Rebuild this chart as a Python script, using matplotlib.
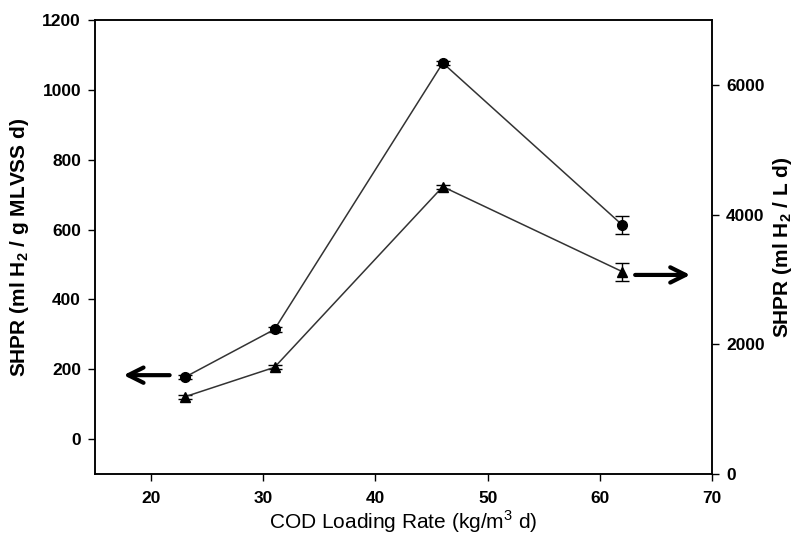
import matplotlib
matplotlib.use("Agg")
import matplotlib.pyplot as plt

plt.rcParams['font.family'] = ['Liberation Sans', 'DejaVu Sans']
plt.rcParams['mathtext.fontset'] = 'custom'
plt.rcParams['mathtext.rm'] = 'Liberation Sans'
plt.rcParams['mathtext.bf'] = 'Liberation Sans:bold'

cod = [23, 31, 46, 62]
shpr_mlvss = [177, 314, 1077, 613]
shpr_mlvss_err = [6, 6, 6, 25]
shpr_l = [1190, 1645, 4430, 3120]
shpr_l_err = [30, 30, 30, 140]

fig = plt.figure(figsize=(7.97, 5.39), dpi=100)
ax = fig.add_axes([0.1192, 0.1206, 0.8934 - 0.1192, 0.9629 - 0.1206])
ax2 = ax.twinx()

lc = '#333333'
ax.errorbar(cod, shpr_mlvss, yerr=shpr_mlvss_err, color=lc, lw=1.1, marker='o', ms=7,
            mfc='black', mec='black', ecolor='black', elinewidth=1, capsize=5)
ax2.errorbar(cod, shpr_l, yerr=shpr_l_err, color=lc, lw=1.1, marker='^', ms=7.5,
             mfc='black', mec='black', ecolor='black', elinewidth=1, capsize=5)

ax.set_xlim(15, 70)
ax.set_ylim(-100, 1200)
ax2.set_ylim(0, 7000)
ax.set_xticks([20, 30, 40, 50, 60, 70])
ax.set_yticks([0, 200, 400, 600, 800, 1000, 1200])
ax2.set_yticks([0, 2000, 4000, 6000])

for a in (ax, ax2):
    a.tick_params(direction='out', length=5, width=1, labelsize=12.5, pad=5)
    for lab in a.get_xticklabels() + a.get_yticklabels():
        lab.set_fontweight('bold')
    for s in a.spines.values():
        s.set_linewidth(1.1)
ax.tick_params(axis='x', pad=7)

ax.set_xlabel('COD Loading Rate (kg/m$^3$ d)', fontsize=15, labelpad=2)
ax.set_ylabel(r'SHPR (ml H$_\mathbf{2}$ / g MLVSS d)', fontsize=15, fontweight='bold', labelpad=8)
ax2.set_ylabel(r'SHPR (ml H$_\mathbf{2}$ / L d)', fontsize=15, fontweight='bold', labelpad=5)

arrow_style = dict(arrowstyle='->,head_length=1.1,head_width=0.55', lw=3, color='black')
ax.annotate('', xy=(17.3, 183), xytext=(21.9, 183), arrowprops=arrow_style)
ax.annotate('', xy=(68.3, 470), xytext=(62.9, 470), arrowprops=arrow_style)

fig.savefig('out.png', dpi=100)
